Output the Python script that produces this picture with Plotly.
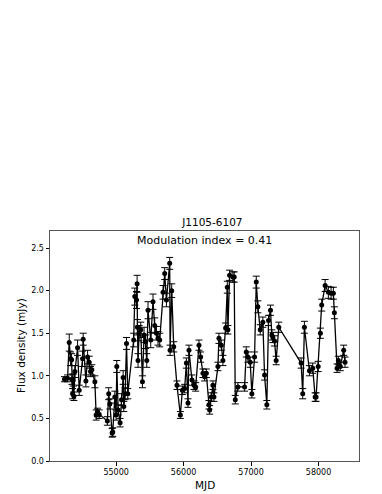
import plotly.graph_objects as go

mjd = [54234, 54280, 54305, 54325, 54340, 54345, 54355, 54364, 54374, 54389,
       54429, 54453, 54503, 54512, 54552, 54577, 54601, 54621, 54640, 54685,
       54704, 54725, 54749, 54870, 54890, 54907, 54941, 54950, 54981, 55000,
       55010, 55030, 55059, 55080, 55104, 55114, 55133, 55154, 55173, 55260,
       55277, 55302, 55311, 55316, 55325, 55340, 55365, 55390, 55414, 55435,
       55454, 55473, 55513, 55547, 55572, 55598, 55621, 55646, 55695, 55720,
       55746, 55794, 55800, 55824, 55854, 55902, 55952, 55982, 56016, 56041,
       56065, 56080, 56124, 56154, 56179, 56228, 56253, 56287, 56312, 56337,
       56376, 56386, 56411, 56435, 56450, 56509, 56524, 56559, 56583, 56623,
       56648, 56657, 56682, 56731, 56750, 56766, 56805, 56904, 56929, 56953,
       56988, 57012, 57052, 57077, 57101, 57136, 57175, 57200, 57234, 57259,
       57288, 57308, 57323, 57348, 57372, 57411, 57742, 57766, 57791, 57865,
       57914, 57950, 57964, 57995, 58028, 58047, 58098, 58146, 58186, 58220,
       58235, 58275, 58294, 58323, 58373, 58393]

flux = [0.96, 0.97, 1.39, 1.20, 1.19, 0.96, 0.79, 0.95, 0.76, 1.05,
        1.33, 0.83, 1.20, 1.43, 0.94, 1.22, 1.16, 1.05, 1.07, 0.93,
        0.54, 0.57, 0.55, 0.47, 0.79, 0.67, 0.33, 0.34, 0.75, 0.54,
        1.11, 0.60, 0.45, 0.72, 0.98, 0.64, 0.79, 1.38, 0.79, 1.42,
        1.93, 1.89, 2.08, 1.57, 1.18, 1.50, 1.54, 0.93, 1.48, 1.40,
        1.18, 1.77, 1.42, 1.87, 1.59, 1.50, 1.44, 1.42, 1.98, 2.20,
        1.89, 2.32, 1.30, 2.00, 1.34, 0.89, 0.54, 0.83, 0.85, 1.15,
        0.68, 1.30, 0.95, 0.89, 0.87, 1.36, 1.22, 1.03, 0.99, 1.03,
        0.66, 0.60, 0.75, 0.89, 0.75, 1.11, 1.44, 1.36, 1.18, 1.56,
        2.04, 1.54, 2.18, 2.16, 2.16, 0.72, 0.87, 0.87, 1.28, 1.22,
        1.16, 0.79, 1.22, 2.10, 1.81, 1.54, 1.63, 1.01, 0.66, 1.65,
        1.77, 1.48, 1.45, 1.41, 1.18, 1.57, 1.15, 0.79, 1.57, 1.06,
        1.09, 0.75, 0.75, 1.11, 1.50, 1.83, 2.06, 1.98, 1.97, 1.97,
        1.74, 1.09, 1.18, 1.11, 1.30, 1.16]

flux_err = [0.03, 0.04, 0.10, 0.08, 0.07, 0.06, 0.06, 0.07, 0.05, 0.07,
            0.09, 0.06, 0.09, 0.07, 0.07, 0.08, 0.07, 0.06, 0.06, 0.07,
            0.06, 0.05, 0.05, 0.05, 0.07, 0.06, 0.05, 0.05, 0.07, 0.06,
            0.07, 0.06, 0.05, 0.07, 0.08, 0.06, 0.07, 0.07, 0.06, 0.08,
            0.10, 0.10, 0.10, 0.09, 0.08, 0.09, 0.09, 0.07, 0.09, 0.08,
            0.08, 0.10, 0.09, 0.09, 0.09, 0.08, 0.08, 0.08, 0.08, 0.07,
            0.08, 0.07, 0.06, 0.08, 0.06, 0.05, 0.04, 0.05, 0.05, 0.06,
            0.05, 0.06, 0.06, 0.05, 0.05, 0.06, 0.06, 0.05, 0.05, 0.05,
            0.05, 0.05, 0.05, 0.05, 0.05, 0.05, 0.06, 0.06, 0.06, 0.06,
            0.07, 0.05, 0.06, 0.06, 0.06, 0.05, 0.05, 0.05, 0.06, 0.06,
            0.06, 0.05, 0.06, 0.07, 0.07, 0.06, 0.06, 0.06, 0.05, 0.06,
            0.06, 0.06, 0.06, 0.06, 0.05, 0.06, 0.06, 0.06, 0.07, 0.06,
            0.06, 0.05, 0.05, 0.06, 0.06, 0.07, 0.07, 0.07, 0.07, 0.07,
            0.07, 0.05, 0.05, 0.05, 0.06, 0.06]

title_text = "J1105-6107"
mod_index_text = "Modulation index = 0.41"
x_title = "MJD"
y_title = "Flux density (mJy)"
x_ticks = [55000, 56000, 57000, 58000]
y_ticks = [0.0, 0.5, 1.0, 1.5, 2.0, 2.5]

font = "DejaVu Sans"

# The page body adds an 8px offset, so the figure is drawn 8px smaller
W, H = 374, 486
L, R, T, B = 42, 23, 223, 33

fig = go.Figure()
fig.add_trace(go.Scatter(
    x=mjd, y=flux,
    mode="lines+markers",
    line=dict(color="black", width=1.3),
    marker=dict(color="black", size=5, symbol="circle"),
    error_y=dict(type="data", array=flux_err, visible=True,
                 color="black", thickness=1, width=3.5),
    showlegend=False,
))

fig.update_layout(
    width=W, height=H,
    margin=dict(l=L, r=R, t=T, b=B),
    paper_bgcolor="white", plot_bgcolor="white",
    font=dict(family=font, color="black", size=8),
    title=dict(text=title_text, x=(L + (W - R)) / 2 / W, xref="paper",
               y=1 - 214 / H, yanchor="middle", xanchor="center",
               font=dict(family=font, size=10.5, color="black")),
    annotations=[
        dict(text=mod_index_text, xref="paper", yref="paper",
             x=0.5, y=1, yanchor="top", xanchor="center",
             yshift=-1, showarrow=False,
             font=dict(family=font, size=11, color="black")),
        dict(text=x_title, xref="paper", yref="paper",
             x=0.5, y=0, yanchor="middle", xanchor="center",
             yshift=-24, showarrow=False,
             font=dict(family=font, size=10.5, color="black")),
        dict(text=y_title, xref="paper", yref="paper",
             x=0, y=0.5, yanchor="middle", xanchor="center",
             xshift=-29, textangle=-90, showarrow=False,
             font=dict(family=font, size=10.5, color="black")),
    ],
)

fig.update_xaxes(
    range=[54020, 58600], automargin=False,
    tickmode="array", tickvals=x_ticks,
    ticktext=[str(v) for v in x_ticks],
    ticks="outside", ticklen=3.5, tickwidth=0.8, tickcolor="black",
    showgrid=False, zeroline=False,
    showline=True, linecolor="#555555", linewidth=1, mirror=True,
    tickfont=dict(family=font, size=8),
)
fig.update_yaxes(
    range=[0, 2.7], automargin=False,
    tickmode="array", tickvals=y_ticks,
    ticktext=[f"{v:.1f}" for v in y_ticks],
    ticks="outside", ticklen=3.5, tickwidth=0.8, tickcolor="black",
    showgrid=False, zeroline=False,
    showline=True, linecolor="#555555", linewidth=1, mirror=True,
    tickfont=dict(family=font, size=8),
)

fig.write_html("out.html")
